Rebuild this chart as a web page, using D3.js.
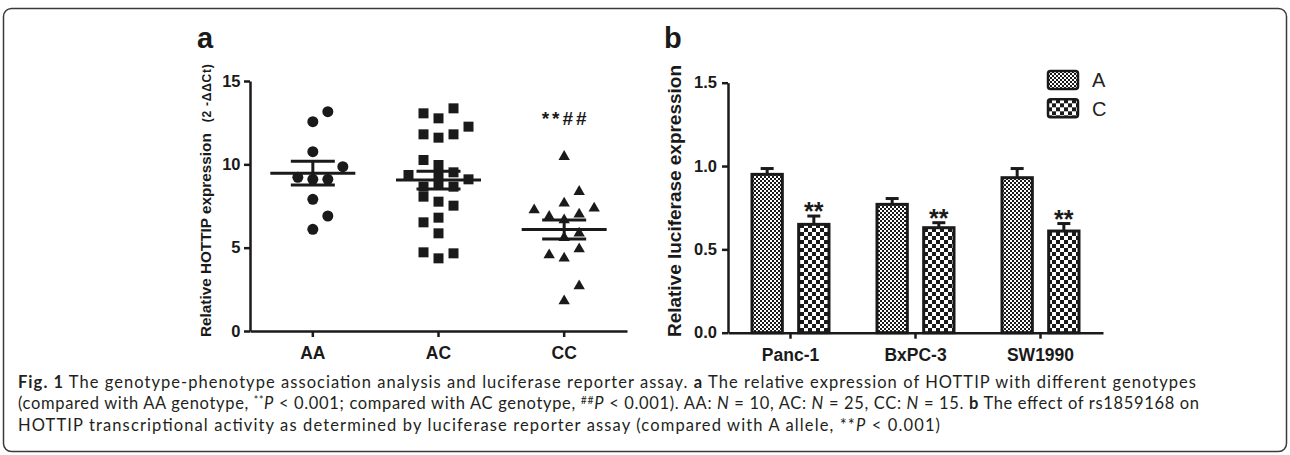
<!DOCTYPE html>
<html>
<head>
<meta charset="utf-8">
<script src="https://cdn.jsdelivr.net/npm/d3@7"></script>
<style>
  body { margin: 0; background: #fff; }
  svg { display: block; font-family: "Liberation Sans", Arial, sans-serif; }
</style>
</head>
<body>
<svg id="fig" width="1290" height="455"></svg>
<script>
// panel a - HOTTIP expression by genotype (slot = column of the point in the scatter)
const genotypes = ["AA", "AC", "CC"];
const aaValues = [13.16, 12.56, 10.76, 9.86, 9.22, 9.10, 9.10, 7.90, 6.90, 6.10];
const aaSlots  = [1, 0, 0, 2, -1, 0, 1, 0, 1, 0];
const acValues = [13.06, 12.76, 13.36, 12.26, 11.8, 11.6, 11.8, 10.26, 9.96, 9.52, 9.36, 9.30, 9.10,
                  8.66, 8.76, 8.66, 8.06, 7.76, 7.52, 6.52, 6.80, 5.86, 4.72, 4.36, 4.66];
const acSlots  = [-1, 0, 1, 2, -1, 0, 1, -1, 0, 1, -2, 0, 2, -1, 0, 1, -1, 0, 1, -1, 0, 0, -1, 0, 1];
const ccValues = [10.46, 8.36, 7.66, 7.36, 7.26, 7.0, 6.86, 6.66, 5.86, 5.6, 4.92, 4.56, 4.36, 2.70, 1.80];
const ccSlots  = [0, 1, 0, 2, -2, 1, -1, 0, 1, 0, 1, -1, 0, 1, 0];
const yTicksA = [0, 5, 10, 15];

// panel b - luciferase reporter
const cellLines = ["Panc-1", "BxPC-3", "SW1990"];
const alleles = ["A", "C"];
const alleleA = [0.95, 0.77, 0.93];
const alleleAErr = [0.035, 0.035, 0.055];
const alleleC = [0.65, 0.63, 0.61];
const alleleCErr = [0.05, 0.03, 0.045];
const yTicksB = [0, 0.5, 1.0, 1.5];

// caption, one array per line: [text, style]
const caption1 = [["Fig. 1", "b"], [" The genotype-phenotype association analysis and luciferase reporter assay. "], ["a", "b"],
                  [" The relative expression of HOTTIP with different genotypes"]];
const caption2 = [["(compared with AA genotype, "], ["**", "sup"], ["P", "i"], [" < 0.001; compared with AC genotype, "],
                  ["##", "sup"], ["P", "i"], [" < 0.001). AA: "], ["N", "i"], [" = 10, AC: "], ["N", "i"], [" = 25, CC: "],
                  ["N", "i"], [" = 15. "], ["b", "b"], [" The effect of rs1859168 on"]];
const caption3 = [["HOTTIP transcriptional activity as determined by luciferase reporter assay (compared with A allele, **"],
                  ["P", "i"], [" < 0.001)"]];

const ink = "#1a1a1a";
const svg = d3.select("#fig");
const defs = svg.append("defs");

function checker(id, cell) {
    const p = defs.append("pattern").attr("id", id)
        .attr("patternUnits", "userSpaceOnUse")
        .attr("width", cell * 2).attr("height", cell * 2);
    p.append("rect").attr("width", cell * 2).attr("height", cell * 2).attr("fill", "#fff");
    p.append("rect").attr("width", cell).attr("height", cell).attr("fill", ink);
    p.append("rect").attr("x", cell).attr("y", cell).attr("width", cell).attr("height", cell).attr("fill", ink);
}
checker("patA", 2);
checker("patC", 4);

// frame
svg.append("rect")
    .attr("x", 3.5).attr("y", 8.5).attr("width", 1283).attr("height", 443).attr("rx", 8)
    .attr("fill", "none").attr("stroke", "#3a3a3a").attr("stroke-width", 1.5);

function styleAxis(g, size) {
    g.select(".domain").attr("stroke", ink).attr("stroke-width", 2.5);
    g.selectAll(".tick line").attr("stroke", ink).attr("stroke-width", 2.5);
    g.selectAll(".tick text").attr("fill", ink).attr("font-size", size).attr("font-weight", "bold")
        .attr("font-family", "Liberation Sans, Arial, sans-serif");
}

// ---------- panel a ----------
const xA = d3.scaleBand().domain(genotypes).range([250, 627]);
const yA = d3.scaleLinear().domain([0, 15]).range([331, 81]);
const jitter = d3.scaleLinear().domain([0, 1]).range([0, 15]);

svg.append("text").attr("x", 197).attr("y", 47.5)
    .attr("font-size", 29).attr("font-weight", "bold").attr("fill", ink).text("a");

svg.append("g").attr("transform", "translate(250,0)")
    .call(d3.axisLeft(yA).tickValues(yTicksA).tickSize(6).tickSizeOuter(0).tickPadding(3.5))
    .call(g => styleAxis(g, 16.5));

svg.append("g").attr("transform", "translate(0,331)")
    .call(d3.axisBottom(xA).tickSize(6).tickSizeOuter(0).tickPadding(10))
    .call(g => styleAxis(g, 17.5));

const titleA = svg.append("text")
    .attr("transform", "translate(211,337) rotate(-90)")
    .attr("font-weight", "bold").attr("fill", ink);
titleA.append("tspan").attr("font-size", 15.3).text("Relative HOTTIP expression");
titleA.append("tspan").attr("dx", 11).attr("font-size", 12).attr("textLength", 58).text("(2 -ΔΔCt)");

const groupsA = [
    { key: "AA", values: aaValues, slots: aaSlots, symbol: d3.symbolCircle, size: 95 },
    { key: "AC", values: acValues, slots: acSlots, symbol: d3.symbolSquare, size: 100 },
    { key: "CC", values: ccValues, slots: ccSlots, symbol: d3.symbolTriangle, size: 56 }
];

groupsA.forEach(grp => {
    const cx = xA(grp.key) + xA.bandwidth() / 2;
    const mean = d3.mean(grp.values);
    const sem = d3.deviation(grp.values) / Math.sqrt(grp.values.length);

    svg.append("g").selectAll("path")
        .data(d3.zip(grp.values, grp.slots))
        .join("path")
        .attr("transform", d => "translate(" + (cx + jitter(d[1])) + "," + yA(d[0]) + ")")
        .attr("d", d3.symbol(grp.symbol, grp.size))
        .attr("fill", ink);

    const g = svg.append("g").attr("stroke", ink).attr("stroke-width", 3);
    g.append("line").attr("x1", cx - 42.5).attr("x2", cx + 42.5).attr("y1", yA(mean)).attr("y2", yA(mean));
    g.append("line").attr("x1", cx).attr("x2", cx).attr("y1", yA(mean - sem)).attr("y2", yA(mean + sem));
    [mean - sem, mean + sem].forEach(v => {
        g.append("line").attr("x1", cx - 22).attr("x2", cx + 22).attr("y1", yA(v)).attr("y2", yA(v));
    });
});

svg.append("text")
    .attr("x", xA("CC") + xA.bandwidth() / 2).attr("y", yA(d3.max(ccValues)) - 32)
    .attr("text-anchor", "middle").attr("font-size", 19).attr("font-weight", "bold")
    .attr("textLength", 45).attr("fill", ink).text("**##");

// ---------- panel b ----------
const xB = d3.scaleBand().domain(cellLines).range([728, 1103]);
const xAllele = d3.scaleBand().domain(alleles).range([22.5, 102.5]).paddingInner(0.286);
const yB = d3.scaleLinear().domain([0, 1.5]).range([332.7, 82.7]);

svg.append("text").attr("x", 664).attr("y", 47.5)
    .attr("font-size", 29).attr("font-weight", "bold").attr("fill", ink).text("b");

svg.append("text")
    .attr("transform", "translate(681,337) rotate(-90)")
    .attr("font-size", 19).attr("font-weight", "bold").attr("fill", ink)
    .attr("textLength", 272)
    .text("Relative luciferase expression");

const barRows = cellLines.flatMap((c, i) => [
    { cell: c, allele: "A", v: alleleA[i], e: alleleAErr[i] },
    { cell: c, allele: "C", v: alleleC[i], e: alleleCErr[i] }
]);
const bx = d => xB(d.cell) + xAllele(d.allele);
const bw = xAllele.bandwidth();

const err = svg.append("g").attr("stroke", ink).attr("stroke-width", 3);
err.selectAll(".stem").data(barRows).join("line").attr("class", "stem")
    .attr("x1", d => bx(d) + bw / 2).attr("x2", d => bx(d) + bw / 2)
    .attr("y1", d => yB(d.v)).attr("y2", d => yB(d.v + d.e));
err.selectAll(".cap").data(barRows).join("line").attr("class", "cap")
    .attr("x1", d => bx(d) + bw / 2 - 6.5).attr("x2", d => bx(d) + bw / 2 + 6.5)
    .attr("y1", d => yB(d.v + d.e)).attr("y2", d => yB(d.v + d.e));

svg.append("g").selectAll("rect").data(barRows).join("rect")
    .attr("x", d => bx(d) + 1.5).attr("width", bw - 3)
    .attr("y", d => yB(d.v)).attr("height", d => yB(0) - yB(d.v))
    .attr("fill", d => d.allele === "A" ? "url(#patA)" : "url(#patC)")
    .attr("stroke", ink).attr("stroke-width", 3);

svg.append("g").selectAll("text").data(barRows.filter(d => d.allele === "C")).join("text")
    .attr("x", d => bx(d) + bw / 2).attr("y", d => yB(d.v + d.e) + 4)
    .attr("text-anchor", "middle").attr("font-size", 25).attr("font-weight", "bold")
    .attr("fill", ink).text("**");

svg.append("g").attr("transform", "translate(728,0)")
    .call(d3.axisLeft(yB).tickValues(yTicksB).tickFormat(d3.format(".1f")).tickSize(6).tickSizeOuter(0).tickPadding(5))
    .call(g => styleAxis(g, 16.5));

svg.append("g").attr("transform", "translate(0,332.7)")
    .call(d3.axisBottom(xB).tickSize(6).tickSizeOuter(0).tickPadding(10))
    .call(g => styleAxis(g, 17.5));

// legend
const legend = svg.append("g").selectAll("g").data(alleles).join("g")
    .attr("transform", (d, i) => "translate(1048," + (71 + i * 28.3) + ")");
legend.append("rect").attr("width", 30).attr("height", 18).attr("rx", 2.5)
    .attr("fill", d => d === "A" ? "url(#patA)" : "url(#patC)")
    .attr("stroke", ink).attr("stroke-width", 2.5);
legend.append("text").attr("x", 44).attr("y", 16.3)
    .attr("font-size", 20).attr("fill", "#222").text(d => d);

// ---------- caption ----------
function captionLine(segs, y, width) {
    const t = svg.append("text").attr("x", 18).attr("y", y)
        .attr("font-family", "Lato, Open Sans, sans-serif").attr("font-size", 16.5).attr("fill", "#231f20")
        .attr("textLength", width).attr("lengthAdjust", "spacing");
    let raised = false;
    segs.forEach(s => {
        const sp = t.append("tspan").text(s[0]);
        if (s[1] === "b") sp.attr("font-weight", "bold");
        if (s[1] === "i") sp.attr("font-style", "italic");
        if (s[1] === "sup") {
            sp.attr("font-size", 10.5).attr("dy", -5.5);
            raised = true;
        } else if (raised) {
            sp.attr("dy", 5.5);
            raised = false;
        }
    });
}
captionLine(caption1, 387.5, 1178);
captionLine(caption2, 409, 1181);
captionLine(caption3, 430.5, 922);
</script>
</body>
</html>
